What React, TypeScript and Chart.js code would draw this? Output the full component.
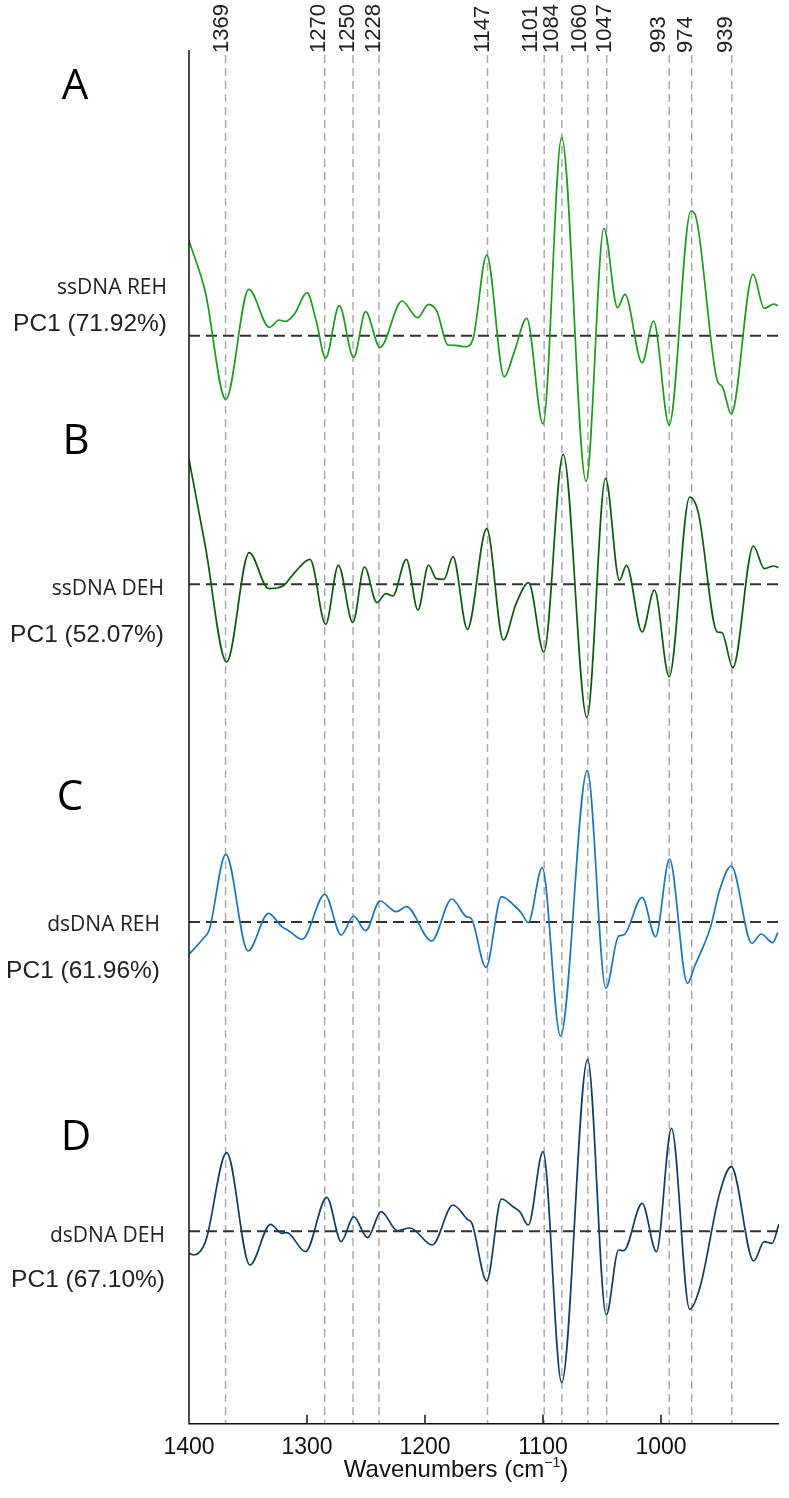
import React, { useEffect, useRef } from 'react';
import { Chart, registerables } from 'chart.js';

Chart.register(...registerables);

// ---------- data (wavenumber in cm-1, PC1 loading in arbitrary units) ----------
const wnA = [1400, 1386.2, 1368.8, 1349.3, 1331.9, 1323.7, 1318, 1310.5, 1300, 1292.4, 1284.2, 1272.7, 1260.5, 1250.3, 1238.2, 1219.4, 1206.3, 1197, 1189.8, 1180.6, 1174, 1165.8, 1159.2, 1147.7, 1132.9, 1124.7, 1113.8, 1100, 1084.2, 1063.5, 1048.4, 1036.8, 1030.6, 1016, 1006.3, 993.1, 974.7, 970.1, 952.3, 948, 940.5, 922, 912.5, 904.3, 901];
const pcA = [95, 44, -63.7, 46.3, 8.3, 15.7, 14.3, 22, 43, 15.7, -22.3, 30, -21.7, 24, -11.7, 34.7, 18, 31.3, 24, -9.3, -9.7, -11, -2.7, 80.7, -41, -17.7, 17.3, -88.3, 198.3, -145.7, 107.3, 28, 41.3, -27, 14.7, -89.3, 124.7, 117.3, -45, -51, -78.3, 61.3, 27.3, 31.7, 30];

const wnB = [1400, 1386.2, 1368.1, 1349, 1332.6, 1320.4, 1310.5, 1297.4, 1284.2, 1273.4, 1261.2, 1251.3, 1240.8, 1233.2, 1227.3, 1215.8, 1206, 1197, 1190.5, 1183.9, 1176.3, 1164.1, 1147.7, 1133.6, 1123, 1112.2, 1099.3, 1082.9, 1062.8, 1047, 1035.2, 1029.3, 1016, 1005.6, 993.1, 975.7, 968.4, 952.3, 948.4, 939.1, 921.7, 912.5, 904.3, 900.5];
const pcB = [125, 38.3, -77.7, 31.7, -4.3, -1.7, 11.7, 25, -40, 19, -38.3, 17.3, -18.3, -9.3, -11.7, 25, -25.7, 19.3, 5.7, 5, 27.7, -45, 55.7, -55.7, -20, 1.7, -67.7, 130, -133.3, 106, 4, 19, -47.7, -5.7, -92.3, 87.3, 71.7, -47.7, -48.3, -83.3, 38.3, 15.7, 18.3, 16.7];

const wnC = [1400, 1387.8, 1382.9, 1368.8, 1350, 1332.6, 1321.4, 1315.5, 1304, 1284.9, 1271, 1260.5, 1250.3, 1238.2, 1224.3, 1215.8, 1194.4, 1177.3, 1164.8, 1160.9, 1148.4, 1135.2, 1124, 1118.1, 1112.5, 1100.7, 1085.2, 1062.5, 1046.7, 1035.9, 1031.6, 1016, 1004.6, 992.8, 977.6, 971.7, 958, 950.3, 940.5, 923, 915.1, 905.3, 901];
const pcC = [-32.3, -16.3, -8, 67.7, -29, 8.7, -4.7, -8.7, -17.3, 27.7, -13, 6, -8.7, 21, 10.3, 15.3, -19, 23, 5.3, 3.7, -45.3, 25.3, 16, 8.7, -0.7, 54.3, -114, 151.3, -66.3, -14, -13, 24.7, -14.7, 63, -61.3, -44.7, -5, 32, 56, -21.3, -12, -20.7, -10.7];

const wnD = [1400, 1396, 1386, 1368.1, 1348.4, 1330.9, 1321.4, 1317.1, 1301.3, 1283.2, 1271, 1260.5, 1248.7, 1237.2, 1223.4, 1212.8, 1193.8, 1176.3, 1164.1, 1160.2, 1147.7, 1135.2, 1124.7, 1119.7, 1112.5, 1100, 1084.2, 1062.2, 1046.4, 1035.9, 1031.6, 1016, 1003.9, 991.1, 975.7, 966.8, 950.3, 940.5, 921.4, 912.5, 905.9, 900];
const pcD = [-22, -23.7, -10.3, 78.7, -33.7, 7, -2, -1.3, -20.3, 34, -10.3, 14.7, -6.3, 19.7, 0.7, 3.3, -13.7, 26.3, 12, 8, -49.7, 32.3, 24, 19.7, 6.3, 79.7, -151.3, 172, -83.7, -18.7, -19.3, 28, -20.3, 103, -78, -55.3, 38, 64.7, -29.7, -10.3, -12, 7.3];

// vertical offsets of each spectrum (y units)
const offsets = [1088, 839.4, 501.7, 192.4];

const panelLetters = ['A', 'B', 'C', 'D'];
const sampleNames = ['ssDNA REH', 'ssDNA DEH', 'dsDNA REH', 'dsDNA DEH'];
const pcLabels = ['PC1 (71.92%)', 'PC1 (52.07%)', 'PC1 (61.96%)', 'PC1 (67.10%)'];

// band markers
const markerLines = [1369, 1285, 1261, 1239, 1147, 1099, 1084, 1062, 1046, 993, 974, 940];
const markerLabels = ['1369', '1270', '1250', '1228', '1147', '1101', '1084', '1060', '1047', '993', '974', '939'];
const markerLabelAt = [1372.4, 1289.8, 1265.4, 1243.1, 1151, 1109.9, 1092.8, 1068.7, 1047.4, 1001.7, 978.6, 944.7];

const xTicks = [1400, 1300, 1200, 1100, 1000];
const xTitle = 'Wavenumbers (cm';

// ---------- styling ----------
const colors = ['#1c9a1c', '#0d5a0d', '#1b76bb', '#0f3d66'];
const letterPos = [[75, 87], [76, 442], [70, 798], [76, 1138]];
const nameRight = [167, 164, 160, 165];
const nameDy = [-48, 5, 3, 5];
const pcDy = [-11, 51, 49, 49];

const overlay = {
  id: 'overlay',
  beforeDatasetsDraw(chart: any) {
    const { ctx, chartArea, scales } = chart;
    const x = scales.x;
    const y = scales.y;
    ctx.save();
    ctx.strokeStyle = '#ababab';
    ctx.lineWidth = 1.5;
    ctx.setLineDash([8, 5]);
    markerLines.forEach((w) => {
      const px = x.getPixelForValue(w);
      ctx.beginPath();
      ctx.moveTo(px, chartArea.top + 5);
      ctx.lineTo(px, chartArea.bottom);
      ctx.stroke();
    });
    ctx.strokeStyle = '#333333';
    ctx.lineWidth = 2;
    ctx.setLineDash([11, 6]);
    offsets.forEach((b) => {
      const py = y.getPixelForValue(b);
      ctx.beginPath();
      ctx.moveTo(chartArea.left, py);
      ctx.lineTo(chartArea.right, py);
      ctx.stroke();
    });
    ctx.restore();
  },
  afterDraw(chart: any) {
    const { ctx, chartArea, scales } = chart;
    const x = scales.x;
    const y = scales.y;
    ctx.save();
    ctx.setLineDash([]);
    // axes
    ctx.strokeStyle = '#111111';
    ctx.lineWidth = 1.5;
    ctx.beginPath();
    ctx.moveTo(chartArea.left, chartArea.top);
    ctx.lineTo(chartArea.left, chartArea.bottom);
    ctx.lineTo(chartArea.right, chartArea.bottom);
    ctx.stroke();
    // ticks + tick labels
    ctx.fillStyle = '#111111';
    ctx.font = '23px "Liberation Sans", Arial, sans-serif';
    ctx.textAlign = 'center';
    ctx.textBaseline = 'middle';
    xTicks.forEach((t) => {
      const px = x.getPixelForValue(t);
      if (t !== 1400) {
        ctx.beginPath();
        ctx.moveTo(px, chartArea.bottom);
        ctx.lineTo(px, chartArea.bottom - 9);
        ctx.stroke();
      }
      ctx.fillText(String(t), px, chartArea.bottom + 24);
    });
    // axis title
    const big = '24px "Liberation Sans", Arial, sans-serif';
    const small = '14px "Liberation Sans", Arial, sans-serif';
    ctx.font = big;
    const mainW = ctx.measureText(xTitle).width;
    const closeW = ctx.measureText(')').width;
    ctx.font = small;
    const supW = ctx.measureText('\u22121').width;
    const total = mainW + supW + closeW;
    const cx = 456;
    const ty = chartArea.bottom + 53;
    let sx = cx - total / 2;
    ctx.textAlign = 'left';
    ctx.textBaseline = 'alphabetic';
    ctx.font = big;
    ctx.fillText(xTitle, sx, ty);
    sx += mainW;
    ctx.font = small;
    ctx.fillText('\u22121', sx, ty - 10);
    sx += supW;
    ctx.font = big;
    ctx.fillText(')', sx, ty);

    // marker labels (rotated)
    ctx.fillStyle = '#222222';
    ctx.font = '22px "Liberation Sans", Arial, sans-serif';
    markerLabels.forEach((lab, i) => {
      const px = x.getPixelForValue(markerLabelAt[i]);
      ctx.save();
      ctx.translate(px, chartArea.top + 3);
      ctx.rotate(-Math.PI / 2);
      ctx.textAlign = 'left';
      ctx.textBaseline = 'middle';
      ctx.fillText(lab, 0, 0);
      ctx.restore();
    });

    // panel texts
    offsets.forEach((b, i) => {
      const py = y.getPixelForValue(b);
      ctx.fillStyle = '#000000';
      ctx.font = '42px "Open Sans", "Noto Sans", sans-serif';
      ctx.textAlign = 'center';
      ctx.textBaseline = 'middle';
      ctx.fillText(panelLetters[i], letterPos[i][0], letterPos[i][1]);
      ctx.fillStyle = '#222222';
      ctx.font = '21px "Open Sans", "Noto Sans", sans-serif';
      ctx.textAlign = 'right';
      ctx.fillText(sampleNames[i], nameRight[i], py + nameDy[i]);
      ctx.font = '24.5px "Liberation Sans", Arial, sans-serif';
      ctx.fillText(pcLabels[i], nameRight[i], py + pcDy[i]);
    });
    ctx.restore();
  },
};

function makeSeries(wn: number[], pc: number[], off: number) {
  return wn.map((w, i) => ({ x: w, y: off + pc[i] }));
}

export default function App() {
  const ref = useRef<HTMLCanvasElement | null>(null);
  useEffect(() => {
    if (!ref.current) return;
    const series = [
      [wnA, pcA],
      [wnB, pcB],
      [wnC, pcC],
      [wnD, pcD],
    ];
    const chart = new Chart(ref.current, {
      type: 'line',
      data: {
        datasets: series.map(([wn, pc], i) => ({
          label: sampleNames[i],
          data: makeSeries(wn as number[], pc as number[], offsets[i]),
          borderColor: colors[i],
          borderWidth: 1.7,
          pointRadius: 0,
          fill: false,
          cubicInterpolationMode: 'monotone' as const,
        })),
      },
      options: {
        responsive: false,
        animation: false,
        layout: { padding: { left: 189, right: 10, top: 50, bottom: 74.3 } },
        plugins: { legend: { display: false }, tooltip: { enabled: false } },
        scales: {
          x: { type: 'linear', reverse: true, min: 900, max: 1400, display: false },
          y: { type: 'linear', min: 0, max: 1373.7, display: false },
        },
      },
      plugins: [overlay],
    });
    return () => chart.destroy();
  }, []);
  return (
    <div style={{ position: 'absolute', left: 0, top: 0, width: 789, height: 1498, background: '#fff' }}>
      <canvas ref={ref} width={789} height={1498} style={{ display: 'block' }} />
    </div>
  );
}
